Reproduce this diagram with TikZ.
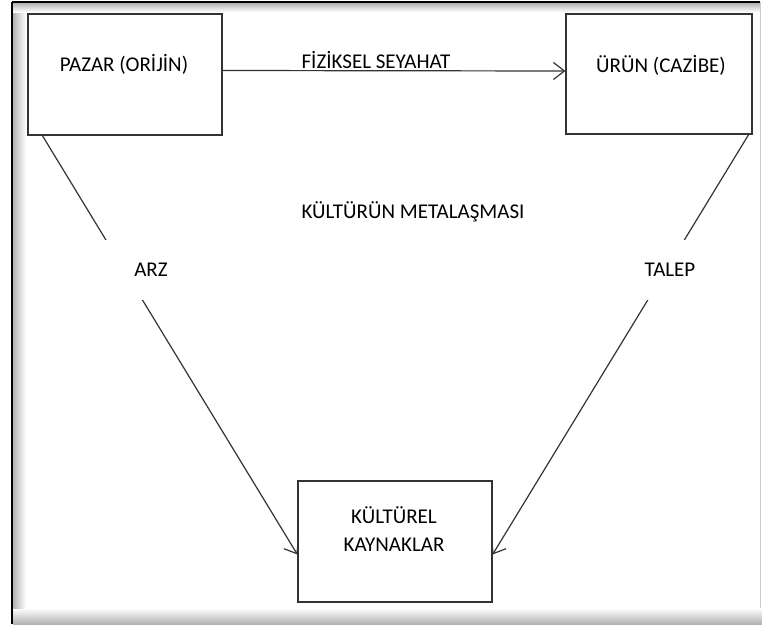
\documentclass[tikz,border=0pt]{standalone}
\usepackage{fontspec}
\setmainfont{Carlito}
\usetikzlibrary{arrows.meta}

\tikzset{
  kutu/.style={shape=rectangle,draw=black!80,line width=1.2pt},
  yazi/.style={text=black,font=\fontsize{21}{25}\selectfont,inner sep=0pt},
  etiket/.style={yazi,fill=white,inner sep=0pt}
}

\begin{document}
\begin{tikzpicture}[x=1pt,y=-1pt,>={Straight Barb[length=11pt,width=17pt]}]
        \useasboundingbox (0,0) rectangle (762,624);
        % cerceve
        \shade[top color=white,bottom color=black!30] (13,608) rectangle (762,624);
        \shade[left color=black!30,right color=white] (13,3) rectangle (26,608);
        \shade[top color=black!30,bottom color=white] (13,3) rectangle (760,12);
        \draw[line width=2pt] (12,2) -- (12,624);
        \draw[line width=2pt] (12,2) -- (760,2);
        \draw[black!20,line width=1pt] (760,2) -- (760,608);
        % kutular
        \node[kutu,minimum width=194pt,minimum height=121pt] (pazar) at (125,74.5) {};
        \node[kutu,minimum width=186pt,minimum height=120pt] (urun) at (659,74) {};
        \node[kutu,minimum width=194pt,minimum height=121pt] (kultur) at (395,541.5) {};
        \node[yazi] (pazartxt) at (124,64) {PAZAR (ORİJİN)};
        \node[yazi] (uruntxt) at (661,65) {ÜRÜN (CAZİBE)};
        \node[yazi] (kulturtxt) at (394,515) {KÜLTÜREL};
        \node[yazi] (kaynaktxt) at (394,545) {KAYNAKLAR};
        % oklar
        \path [->,line width=1.2pt,black!80] ([yshift=4pt]pazar.east) edge ([yshift=3pt]urun.west);
        \path [->,line width=1.2pt,black!80] ([xshift=15pt]pazar.south west) edge ([yshift=-13pt]kultur.west);
        \path [->,line width=1.2pt,black!80] ([xshift=-4pt]urun.south east) edge ([yshift=-13pt]kultur.east);
        % etiketler
        \node[yazi] (seyahat) at (376,60) {FİZİKSEL SEYAHAT};
        \node[yazi] (meta) at (413,212) {KÜLTÜRÜN METALAŞMASI};
        \node[etiket,minimum width=96pt,minimum height=60pt] (arz) at (151,270) {ARZ};
        \node[etiket,minimum width=80pt,minimum height=60pt] (talep) at (670,270) {TALEP};
\end{tikzpicture}
\end{document}
